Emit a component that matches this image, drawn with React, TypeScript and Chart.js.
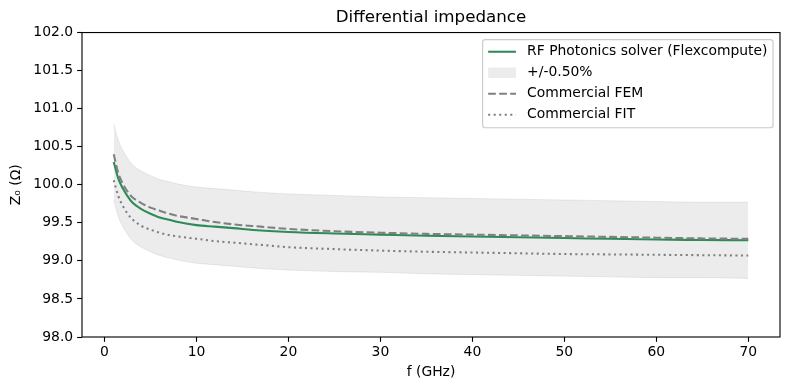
import React, { useEffect, useRef } from "react";
import { Chart, registerables } from "chart.js";

Chart.register(...registerables);

// ---------- data ----------
const freqGHz = [1, 1.5, 2, 2.5, 3, 4, 5, 6, 7, 8, 10, 12, 14, 17, 20, 25, 30, 35, 40, 45, 50, 55, 60, 65, 70];
const solverZ0 = [100.3, 100.08, 99.95, 99.85, 99.77, 99.68, 99.62, 99.57, 99.54, 99.51, 99.47, 99.45, 99.43, 99.4, 99.38, 99.36, 99.345, 99.33, 99.32, 99.31, 99.3, 99.29, 99.28, 99.275, 99.27];
const bandUpper = [100.8, 100.58, 100.45, 100.35, 100.27, 100.18, 100.12, 100.07, 100.04, 100.01, 99.97, 99.95, 99.93, 99.9, 99.88, 99.86, 99.84, 99.83, 99.82, 99.81, 99.8, 99.79, 99.78, 99.77, 99.77];
const bandLower = [99.8, 99.58, 99.45, 99.35, 99.27, 99.18, 99.12, 99.07, 99.04, 99.01, 98.97, 98.95, 98.93, 98.9, 98.88, 98.86, 98.85, 98.83, 98.82, 98.81, 98.8, 98.79, 98.78, 98.78, 98.77];
const femZ0 = [100.4, 100.15, 100.01, 99.91, 99.84, 99.76, 99.7, 99.66, 99.62, 99.59, 99.55, 99.51, 99.48, 99.45, 99.42, 99.39, 99.37, 99.355, 99.345, 99.335, 99.325, 99.315, 99.305, 99.295, 99.29];
const fitZ0 = [100.06, 99.85, 99.72, 99.62, 99.55, 99.46, 99.41, 99.37, 99.34, 99.32, 99.29, 99.26, 99.24, 99.21, 99.18, 99.155, 99.135, 99.12, 99.11, 99.1, 99.09, 99.085, 99.08, 99.075, 99.07];

const seriesLabels = ["RF Photonics solver (Flexcompute)", "+/-0.50%", "Commercial FEM", "Commercial FIT"];
const xTicks = [0, 10, 20, 30, 40, 50, 60, 70];
const yTicks = [98, 98.5, 99, 99.5, 100, 100.5, 101, 101.5, 102];
const titleText = "Differential impedance";
const xTitleText = "f (GHz)";
const yTitleText = "Z\u2080 (\u03A9)";

// ---------- styles ----------
const FONT = "'DejaVu Sans', 'Liberation Sans', sans-serif";
const GREEN = "#2e8b57";
const GRAY = "#808080";
const BAND_FILL = "rgba(128,128,128,0.15)";
const BAND_EDGE = "rgba(128,128,128,0.15)";
const LW = 2.08;
const FEM_DASH = [7.7, 3.33];
const FIT_DASH = [2.08, 3.44];

const framePlugin = {
  id: "mplFrame",
  afterDatasetsDraw(chart: any) {
    const { ctx, chartArea: a } = chart;
    ctx.save();
    ctx.strokeStyle = "#000";
    ctx.lineWidth = 1.11;
    ctx.strokeRect(a.left, a.top, a.right - a.left, a.bottom - a.top);
    ctx.restore();
  },
};

const legendItems = [
  { label: seriesLabels[0], kind: "line", color: GREEN, dash: [] as number[] },
  { label: seriesLabels[1], kind: "fill", color: BAND_FILL, dash: [] as number[] },
  { label: seriesLabels[2], kind: "line", color: GRAY, dash: FEM_DASH },
  { label: seriesLabels[3], kind: "line", color: GRAY, dash: FIT_DASH },
];

const legendPlugin = {
  id: "mplLegend",
  afterDraw(chart: any) {
    const { ctx, chartArea: a } = chart;
    const fs = 13.9;
    const borderPad = 0.4 * fs;
    const handleLen = 2.0 * fs;
    const handlePad = 0.8 * fs;
    const rowH = 21;
    ctx.save();
    ctx.font = `${fs}px ${FONT}`;
    let maxW = 0;
    for (const it of legendItems) maxW = Math.max(maxW, ctx.measureText(it.label).width);
    const w = 2 * borderPad + handleLen + handlePad + maxW;
    const h = 88.2;
    const right = a.right - 7;
    const top = a.top + 7;
    const left = right - w;
    ctx.beginPath();
    if ((ctx as any).roundRect) (ctx as any).roundRect(left, top, w, h, 2.8);
    else ctx.rect(left, top, w, h);
    ctx.fillStyle = "rgba(255,255,255,0.8)";
    ctx.fill();
    ctx.strokeStyle = "#cccccc";
    ctx.lineWidth = 1.2;
    ctx.stroke();
    const hx0 = left + borderPad;
    const hx1 = hx0 + handleLen;
    legendItems.forEach((it, i) => {
      const cy = top + 12.2 + i * rowH;
      if (it.kind === "fill") {
        ctx.fillStyle = it.color;
        ctx.fillRect(hx0, cy - 5.2, handleLen, 10.4);
      } else {
        ctx.beginPath();
        ctx.setLineDash(it.dash);
        ctx.strokeStyle = it.color;
        ctx.lineWidth = LW;
        ctx.lineCap = "butt";
        ctx.moveTo(hx0, cy);
        ctx.lineTo(hx1, cy);
        ctx.stroke();
        ctx.setLineDash([]);
      }
      ctx.fillStyle = "#000";
      ctx.textAlign = "left";
      ctx.textBaseline = "middle";
      ctx.fillText(it.label, hx1 + handlePad, cy);
    });
    ctx.restore();
  },
};

const pts = (ys: number[]) => freqGHz.map((x, i) => ({ x, y: ys[i] }));

export default function App() {
  const canvasRef = useRef<HTMLCanvasElement | null>(null);

  useEffect(() => {
    document.body.style.margin = "0";
    const canvas = canvasRef.current;
    if (!canvas) return;
    const tickFont = { family: FONT, size: 13.9 };
    const chart = new Chart(canvas, {
      type: "line",
      data: {
        datasets: [
          {
            label: seriesLabels[0],
            data: pts(solverZ0),
            borderColor: GREEN,
            borderWidth: LW,
            pointRadius: 0,
            fill: false,
            cubicInterpolationMode: "monotone",
            order: 3,
          },
          {
            label: seriesLabels[1],
            data: pts(bandUpper),
            borderColor: BAND_EDGE,
            backgroundColor: BAND_FILL,
            borderWidth: 1,
            pointRadius: 0,
            fill: "+1",
            cubicInterpolationMode: "monotone",
            order: 10,
          },
          {
            label: seriesLabels[1],
            data: pts(bandLower),
            borderColor: BAND_EDGE,
            borderWidth: 1,
            pointRadius: 0,
            fill: false,
            cubicInterpolationMode: "monotone",
            order: 9,
          },
          {
            label: seriesLabels[2],
            data: pts(femZ0),
            borderColor: GRAY,
            borderWidth: LW,
            borderDash: FEM_DASH,
            pointRadius: 0,
            fill: false,
            cubicInterpolationMode: "monotone",
            order: 2,
          },
          {
            label: seriesLabels[3],
            data: pts(fitZ0),
            borderColor: GRAY,
            borderWidth: LW,
            borderDash: FIT_DASH,
            pointRadius: 0,
            fill: false,
            cubicInterpolationMode: "monotone",
            order: 1,
          },
        ],
      } as any,
      options: {
        animation: false,
        responsive: true,
        maintainAspectRatio: false,
        color: "#000",
        layout: { padding: { left: 0, right: 10, top: 0, bottom: 0 } },
        plugins: {
          legend: { display: false },
          tooltip: { enabled: false },
          title: {
            display: true,
            text: titleText,
            fullSize: false,
            color: "#000",
            font: { family: FONT, size: 16.7, weight: "normal" },
            padding: { top: 7.8, bottom: 4.7 },
          },
        },
        scales: {
          x: {
            type: "linear",
            min: -2.45,
            max: 73.45,
            afterFit: (s: any) => {
              s.height = 53;
            },
            afterBuildTicks: (s: any) => {
              s.ticks = xTicks.map((v) => ({ value: v }));
            },
            border: { display: false },
            grid: {
              display: true,
              drawOnChartArea: false,
              drawTicks: true,
              tickLength: 4.86,
              tickWidth: 1.11,
              tickColor: "#000",
            },
            ticks: {
              color: "#000",
              font: tickFont,
              padding: 2,
              maxRotation: 0,
              callback: (v: any) => String(v),
            },
            title: {
              display: true,
              text: xTitleText,
              color: "#000",
              font: tickFont,
              padding: { top: 0, bottom: 9.7 },
            },
          },
          y: {
            type: "linear",
            min: 98,
            max: 102,
            afterFit: (s: any) => {
              s.width = 82;
            },
            afterBuildTicks: (s: any) => {
              s.ticks = yTicks.map((v) => ({ value: v }));
            },
            border: { display: false },
            grid: {
              display: true,
              drawOnChartArea: false,
              drawTicks: true,
              tickLength: 4.86,
              tickWidth: 1.11,
              tickColor: "#000",
            },
            ticks: {
              color: "#000",
              font: tickFont,
              padding: 4,
              callback: (v: any) => Number(v).toFixed(1),
            },
            title: {
              display: true,
              text: yTitleText,
              color: "#000",
              font: tickFont,
              padding: { top: 8.2, bottom: 0 },
            },
          },
        },
      } as any,
      plugins: [framePlugin, legendPlugin],
    });
    return () => chart.destroy();
  }, []);

  return (
    <div style={{ position: "absolute", left: 0, top: 0, width: 790, height: 390 }}>
      <canvas ref={canvasRef} />
    </div>
  );
}
